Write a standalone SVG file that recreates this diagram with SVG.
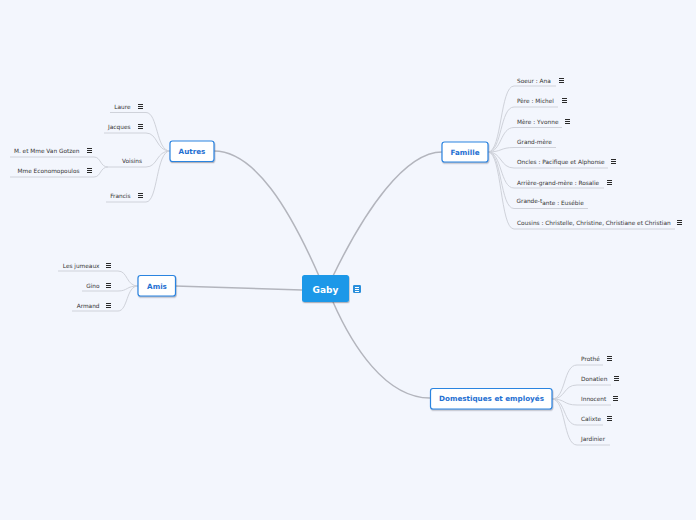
<svg xmlns="http://www.w3.org/2000/svg" xmlns:xlink="http://www.w3.org/1999/xlink" width="696" height="520" viewBox="0 0 696 520">
<style>
.leaf{font-family:"DejaVu Sans","Liberation Sans",sans-serif;font-size:5.8px;fill:#333333}
.end{text-anchor:end}
.node rect{fill:#ffffff;stroke:#2b84e0;stroke-width:1.2}
.node text{font-family:"DejaVu Sans","Liberation Sans",sans-serif;font-size:7.2px;font-weight:bold;fill:#1f70d2;text-anchor:middle}
.main{fill:none;stroke:#b3b5bd;stroke-width:1.5}
.sub{fill:none;stroke:#cfd2da;stroke-width:1}
</style>
<defs>
<path id="note" d="M0,-3h5v1h-5z M0,-1h5v1h-5z M0,1h5v1h-5z" fill="#2a2a2a" shape-rendering="crispEdges"/>
<filter id="sh" x="-20%" y="-20%" width="140%" height="160%"><feDropShadow dx="0.6" dy="1.2" stdDeviation="0.7" flood-color="#334" flood-opacity="0.35"/></filter>
</defs>
<rect width="696" height="520" fill="#f3f6fd"/>
<g id="connectors">
<path class="main" d="M333,276 C365,210 405,152 442,152"/>
<path class="main" d="M319,276 C290,210 255,151 214,151"/>
<path class="main" d="M333,302 C352,345 385,398 430,398"/>
<path class="main" d="M302,290 L175,286"/>
<path class="sub" d="M488,152 C502,152 500,86 514,86 H556"/>
<path class="sub" d="M488,152 C502,152 500,107 514,107 H558"/>
<path class="sub" d="M488,152 C502,152 500,127.5 514,127.5 H562"/>
<path class="sub" d="M488,152 C502,152 500,147.5 514,147.5 H556"/>
<path class="sub" d="M488,152 C502,152 500,168 514,168 H608"/>
<path class="sub" d="M488,152 C502,152 500,188 514,188 H604"/>
<path class="sub" d="M488,152 C502,152 500,208.5 514,208.5 H588"/>
<path class="sub" d="M488,152 C502,152 500,229 514,229 H675"/>
<path class="sub" d="M552,399 C566,399 563,365 577,365 H603"/>
<path class="sub" d="M552,399 C566,399 563,385 577,385 H611"/>
<path class="sub" d="M552,399 C566,399 563,405 577,405 H611"/>
<path class="sub" d="M552,399 C566,399 563,425 577,425 H603"/>
<path class="sub" d="M552,399 C566,399 563,445 577,445 H610"/>
<path class="sub" d="M170,151 C156,151 158,112.5 146,112.5 H110"/>
<path class="sub" d="M170,151 C156,151 158,133 146,133 H104"/>
<path class="sub" d="M170,151 C156,151 158,167 146,167 H108"/>
<path class="sub" d="M170,151 C156,151 158,202 146,202 H106"/>
<path class="sub" d="M108,167 C100,167 101,157 94,157 H10"/>
<path class="sub" d="M108,167 C100,167 101,177 94,177 H10"/>
<path class="sub" d="M138,286 C126,286 128,271 118,271 H58"/>
<path class="sub" d="M138,286 C126,286 128,291 118,291 H82"/>
<path class="sub" d="M138,286 C126,286 128,311 118,311 H72"/>
</g>
<g id="gaby">
<rect x="302" y="275" width="47" height="27" rx="2.5" fill="#1b98e8" filter="url(#sh)"/>
<text x="325.5" y="292.5" font-family="DejaVu Sans,Liberation Sans,sans-serif" font-size="9" font-weight="bold" fill="#ffffff" text-anchor="middle">Gaby</text>
<rect x="353" y="285" width="8" height="8" rx="1.2" fill="#2a8fdc"/>
<path d="M355,287h4v1h-4z M355,289h4v1h-4z M355,291h4v1h-4z" fill="#fff" shape-rendering="crispEdges"/>
</g>
<g id="famille" class="node"><rect x="442" y="142" width="46" height="20" rx="2.5" filter="url(#sh)"/><text x="465" y="154.6">Famille</text></g>
<g id="autres" class="node"><rect x="170" y="141" width="44" height="20.5" rx="2.5" filter="url(#sh)"/><text x="192" y="153.8">Autres</text></g>
<g id="amis" class="node"><rect x="138" y="275.5" width="37.5" height="20.5" rx="2.5" filter="url(#sh)"/><text x="157" y="288.5">Amis</text></g>
<g id="domestiques" class="node"><rect x="430.5" y="388.5" width="121.5" height="20.5" rx="2.5" filter="url(#sh)"/><text x="491.5" y="401.4">Domestiques et employés</text></g>
<g id="soeur"><text class="leaf" x="517" y="82.5">Soeur : Ana</text><use xlink:href="#note" x="559" y="81"/></g>
<g id="pere"><text class="leaf" x="517" y="103">Père : Michel</text><use xlink:href="#note" x="562" y="101"/></g>
<g id="mere"><text class="leaf" x="517" y="123.5">Mère : Yvonne</text><use xlink:href="#note" x="565" y="122"/></g>
<g id="grandmere"><text class="leaf" x="517" y="144">Grand-mère</text></g>
<g id="oncles"><text class="leaf" x="517" y="164">Oncles : Pacifique et Alphonse</text><use xlink:href="#note" x="611" y="162"/></g>
<g id="arriere"><text class="leaf" x="517" y="184.5">Arrière-grand-mère : Rosalie</text><use xlink:href="#note" x="607" y="183"/></g>
<g id="grandetante"><text class="leaf" x="516.5" y="203">Grande-t<tspan dy="1.8">ante : Eusébie</tspan></text></g>
<g id="cousins"><text class="leaf" x="517" y="225">Cousins : Christelle, Christine, Christiane et Christian</text><use xlink:href="#note" x="677" y="223"/></g>
<g id="prothe"><text class="leaf" x="581" y="361">Prothé</text><use xlink:href="#note" x="607" y="359"/></g>
<g id="donatien"><text class="leaf" x="581" y="381">Donatien</text><use xlink:href="#note" x="614" y="379"/></g>
<g id="innocent"><text class="leaf" x="581" y="401">Innocent</text><use xlink:href="#note" x="613" y="399"/></g>
<g id="calixte"><text class="leaf" x="581" y="421">Calixte</text><use xlink:href="#note" x="607" y="419"/></g>
<g id="jardinier"><text class="leaf" x="581" y="441">Jardinier</text></g>
<g id="laure"><text class="leaf end" x="130.5" y="109">Laure</text><use xlink:href="#note" x="138" y="107"/></g>
<g id="jacques"><text class="leaf end" x="130.5" y="129">Jacques</text><use xlink:href="#note" x="138" y="127"/></g>
<g id="voisins"><text class="leaf end" x="142" y="163">Voisins</text></g>
<g id="vangotzen"><text class="leaf end" x="79.5" y="153">M. et Mme Van Gotzen</text><use xlink:href="#note" x="87" y="151"/></g>
<g id="economopoulos"><text class="leaf end" x="79.5" y="173">Mme Economopoulos</text><use xlink:href="#note" x="87" y="171"/></g>
<g id="francis"><text class="leaf end" x="130.5" y="198">Francis</text><use xlink:href="#note" x="138" y="196"/></g>
<g id="jumeaux"><text class="leaf end" x="99.5" y="268">Les jumeaux</text><use xlink:href="#note" x="106" y="266"/></g>
<g id="gino"><text class="leaf end" x="99.5" y="288">Gino</text><use xlink:href="#note" x="106" y="286"/></g>
<g id="armand"><text class="leaf end" x="99.5" y="308">Armand</text><use xlink:href="#note" x="106" y="306"/></g>
</svg>
